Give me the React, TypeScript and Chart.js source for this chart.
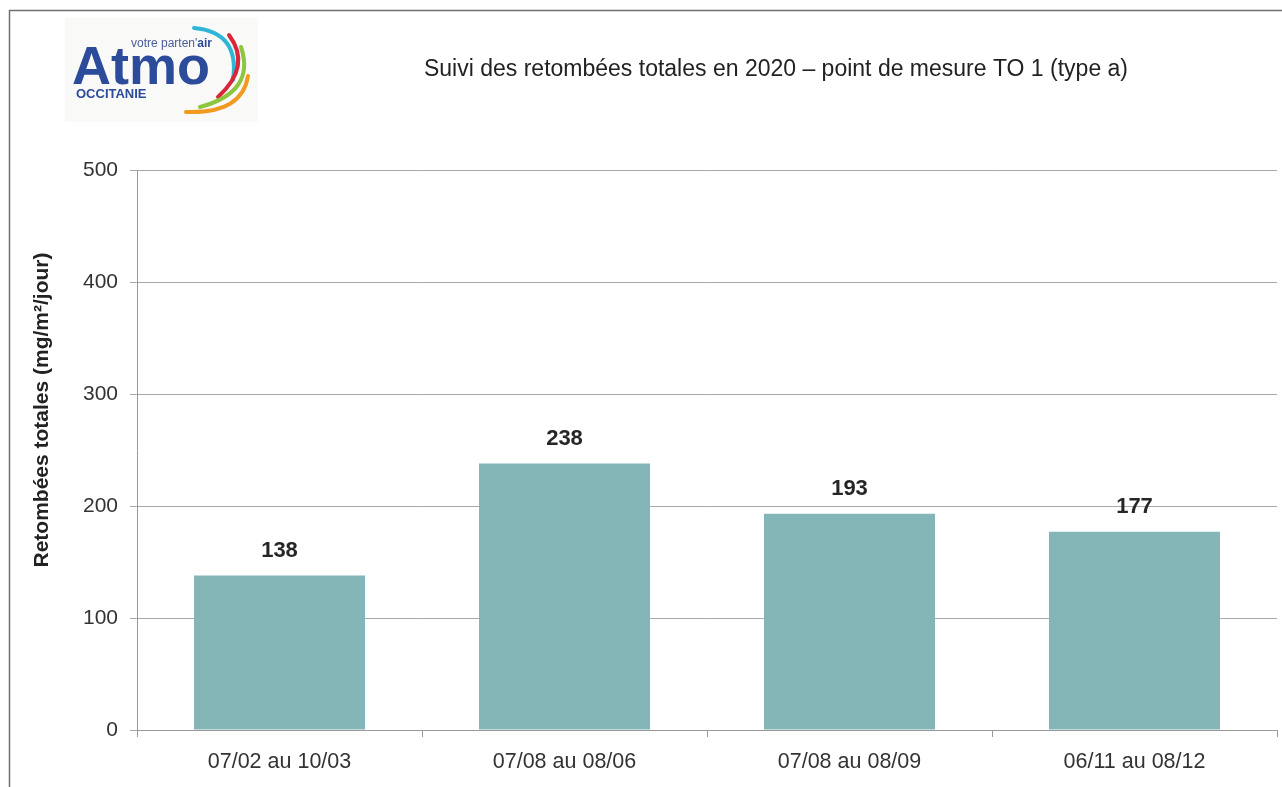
import React, { useEffect, useRef } from "react";
import { Chart, registerables } from "chart.js";

Chart.register(...registerables);

const categories = ["07/02 au 10/03", "07/08 au 08/06", "07/08 au 08/09", "06/11 au 08/12"];
const values = [138, 238, 193, 177];
const yTicks = [0, 100, 200, 300, 400, 500];
const titleText = "Suivi des retombées totales en 2020 – point de mesure TO 1 (type a)";
const yTitleText = "Retombées totales (mg/m²/jour)";

const FONT = "'Liberation Sans', Arial, Helvetica, sans-serif";

const decorPlugin = {
  id: "decor",
  beforeDraw(chart: any) {
    const ctx = chart.ctx;
    ctx.save();
    ctx.fillStyle = "#ffffff";
    ctx.fillRect(0, 0, chart.width, chart.height);
    ctx.restore();
  },
  afterDraw(chart: any) {
    const ctx = chart.ctx;
    const y = chart.scales.y;
    ctx.save();
    // frame
    ctx.strokeStyle = "#707070";
    ctx.lineWidth = 1.5;
    ctx.beginPath();
    ctx.moveTo(9.5, chart.height);
    ctx.lineTo(9.5, 10.5);
    ctx.lineTo(chart.width, 10.5);
    ctx.stroke();

    // title
    ctx.fillStyle = "#222";
    ctx.font = `23px ${FONT}`;
    ctx.textAlign = "center";
    ctx.textBaseline = "middle";
    ctx.fillText(titleText, 776, 70);

    // y title
    ctx.save();
    ctx.translate(42, 410);
    ctx.rotate(-Math.PI / 2);
    ctx.font = `bold 21px ${FONT}`;
    ctx.fillStyle = "#222";
    ctx.fillText(yTitleText, 0, 0);
    ctx.restore();

    // data labels
    ctx.font = `bold 22px ${FONT}`;
    ctx.fillStyle = "#262626";
    ctx.textBaseline = "middle";
    const meta = chart.getDatasetMeta(0);
    meta.data.forEach((bar: any, i: number) => {
      ctx.fillText(String(values[i]), bar.x, y.getPixelForValue(values[i]) - 25);
    });

    // logo
    ctx.fillStyle = "#f9f9f7";
    ctx.fillRect(65, 18, 193, 104);
    const curves = [
      { c: "#2fb6d6", p0: [194, 28], cp: [240, 32], p2: [233, 80] },
      { c: "#d9263b", p0: [229, 35], cp: [252, 66], p2: [218, 97] },
      { c: "#8cc63f", p0: [241, 47], cp: [256, 92], p2: [200, 107] },
      { c: "#f29a1f", p0: [248, 76], cp: [242, 114], p2: [186, 112] },
    ];
    ctx.lineCap = "round";
    ctx.lineWidth = 4;
    curves.forEach((a) => {
      ctx.strokeStyle = a.c;
      ctx.beginPath();
      ctx.moveTo(a.p0[0], a.p0[1]);
      ctx.quadraticCurveTo(a.cp[0], a.cp[1], a.p2[0], a.p2[1]);
      ctx.stroke();
    });
    ctx.textAlign = "left";
    ctx.textBaseline = "alphabetic";
    ctx.fillStyle = "#2d4b9b";
    ctx.font = `bold 54px ${FONT}`;
    ctx.fillText("Atmo", 72, 84);
    ctx.font = `bold 13px ${FONT}`;
    ctx.fillText("OCCITANIE", 76, 98);
    ctx.font = `12px ${FONT}`;
    ctx.fillStyle = "#4a5d9a";
    const t1 = "votre parten'";
    ctx.fillText(t1, 131, 47);
    const w1 = ctx.measureText(t1).width;
    ctx.font = `bold 12px ${FONT}`;
    ctx.fillStyle = "#2d4b9b";
    ctx.fillText("air", 131 + w1, 47);
    ctx.restore();
  },
};

export default function App() {
  const ref = useRef<HTMLCanvasElement | null>(null);
  useEffect(() => {
    if (!ref.current) return;
    const chart = new Chart(ref.current, {
      type: "bar",
      data: {
        labels: categories,
        datasets: [
          {
            data: values,
            backgroundColor: "#84b6b7",
            borderWidth: 0,
            barPercentage: 0.6,
            categoryPercentage: 1,
          },
        ],
      },
      options: {
        responsive: false,
        animation: false,
        devicePixelRatio: 1,
        layout: { padding: { top: 170, right: 5, left: 0, bottom: 0 } },
        plugins: { legend: { display: false }, tooltip: { enabled: false }, title: { display: false } },
        scales: {
          x: {
            offset: true,
            grid: { display: true, drawOnChartArea: false, drawTicks: true, tickLength: 7, color: "#999", offset: true },
            border: { color: "#999", width: 1 },
            ticks: { font: { family: FONT, size: 21.5 }, color: "#333", padding: 12, maxRotation: 0 },
            afterFit: (s: any) => {
              s.height = 57;
            },
          },
          y: {
            min: 0,
            max: 500,
            afterBuildTicks: (s: any) => {
              s.ticks = yTicks.map((v) => ({ value: v }));
            },
            grid: { color: "#a8a8a8", tickLength: 7, lineWidth: 1 },
            border: { color: "#999", width: 1 },
            ticks: { font: { family: FONT, size: 21 }, color: "#333", padding: 12 },
            afterFit: (s: any) => {
              s.width = 137;
            },
          },
        },
      },
      plugins: [decorPlugin],
    });
    return () => chart.destroy();
  }, []);
  return (
    <div style={{ position: "fixed", left: 0, top: 0, width: 1282, height: 787, background: "#fff" }}>
      <canvas ref={ref} width={1282} height={787} style={{ display: "block", width: 1282, height: 787 }} />
    </div>
  );
}
